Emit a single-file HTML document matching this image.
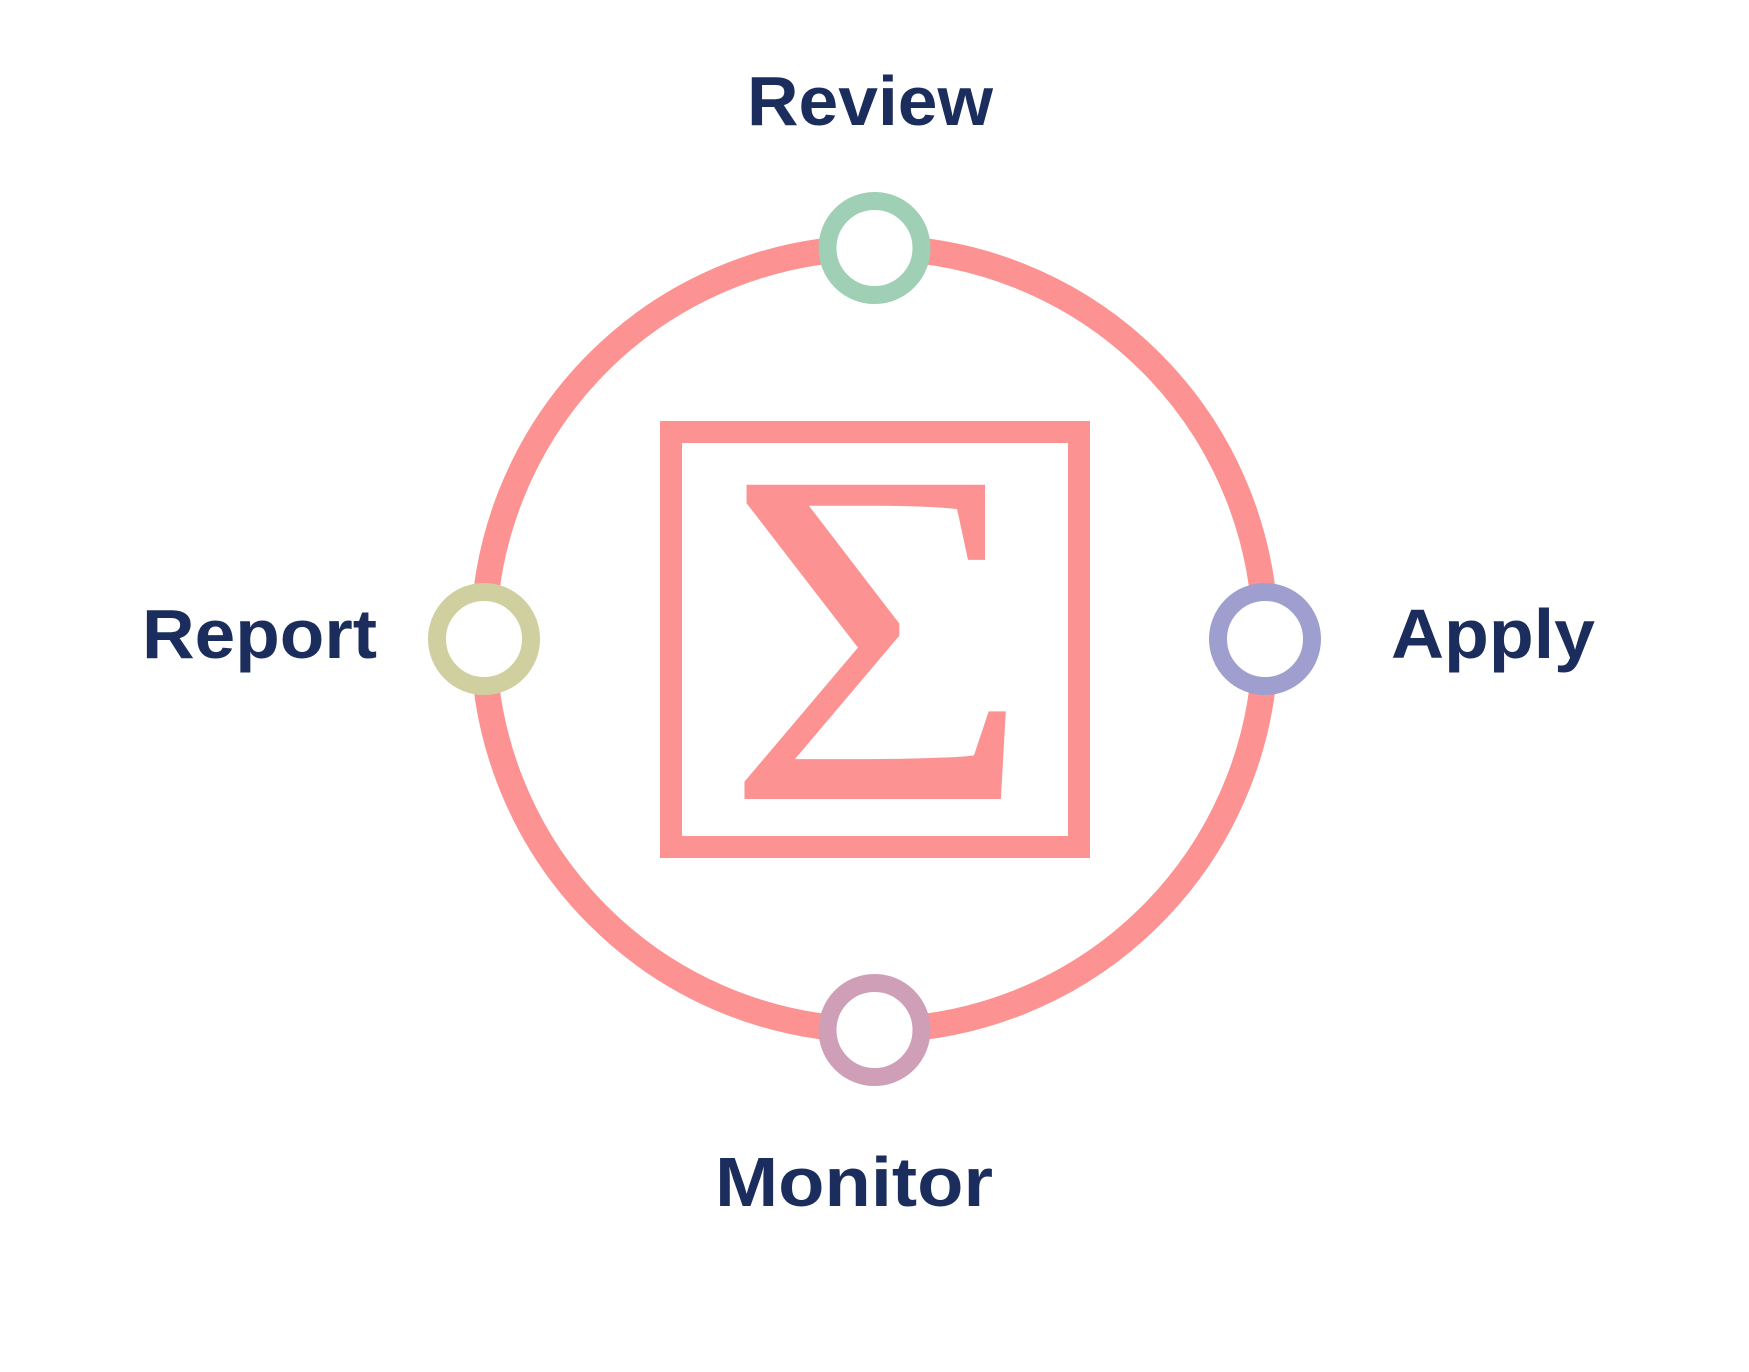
<!DOCTYPE html>
<html><head><meta charset="utf-8"><style>html,body{margin:0;padding:0;background:#fff}svg{display:block}</style></head>
<body>
<svg width="1749" height="1372" viewBox="0 0 1749 1372" xmlns="http://www.w3.org/2000/svg">
<rect width="1749" height="1372" fill="#fff"/>
<circle cx="874.5" cy="639" r="391" fill="none" stroke="#fd9292" stroke-width="26"/>
<rect x="671" y="432" width="408" height="415" fill="none" stroke="#fd9292" stroke-width="22"/>
<text transform="scale(1.105,1)" x="655" y="799" font-family="'Liberation Serif', serif" font-size="480" fill="#fd9292">Σ</text>
<circle cx="874.5" cy="248" r="47" fill="#fff" stroke="#9fcfb5" stroke-width="18"/>
<circle cx="1265" cy="639" r="47" fill="#fff" stroke="#9f9fcf" stroke-width="18"/>
<circle cx="874.5" cy="1030" r="47" fill="#fff" stroke="#cf9fb8" stroke-width="18"/>
<circle cx="484" cy="639" r="47" fill="#fff" stroke="#cfcf9f" stroke-width="18"/>
<g font-family="'Liberation Sans', sans-serif" font-weight="bold" font-size="70" fill="#1b2d5c">
<text x="747" y="125" textLength="246" lengthAdjust="spacingAndGlyphs">Review</text>
<text x="142" y="658" textLength="235" lengthAdjust="spacingAndGlyphs">Report</text>
<text x="1391" y="658" textLength="204" lengthAdjust="spacingAndGlyphs">Apply</text>
<text x="715" y="1206" textLength="278" lengthAdjust="spacingAndGlyphs">Monitor</text>
</g>
</svg>
</body></html>
